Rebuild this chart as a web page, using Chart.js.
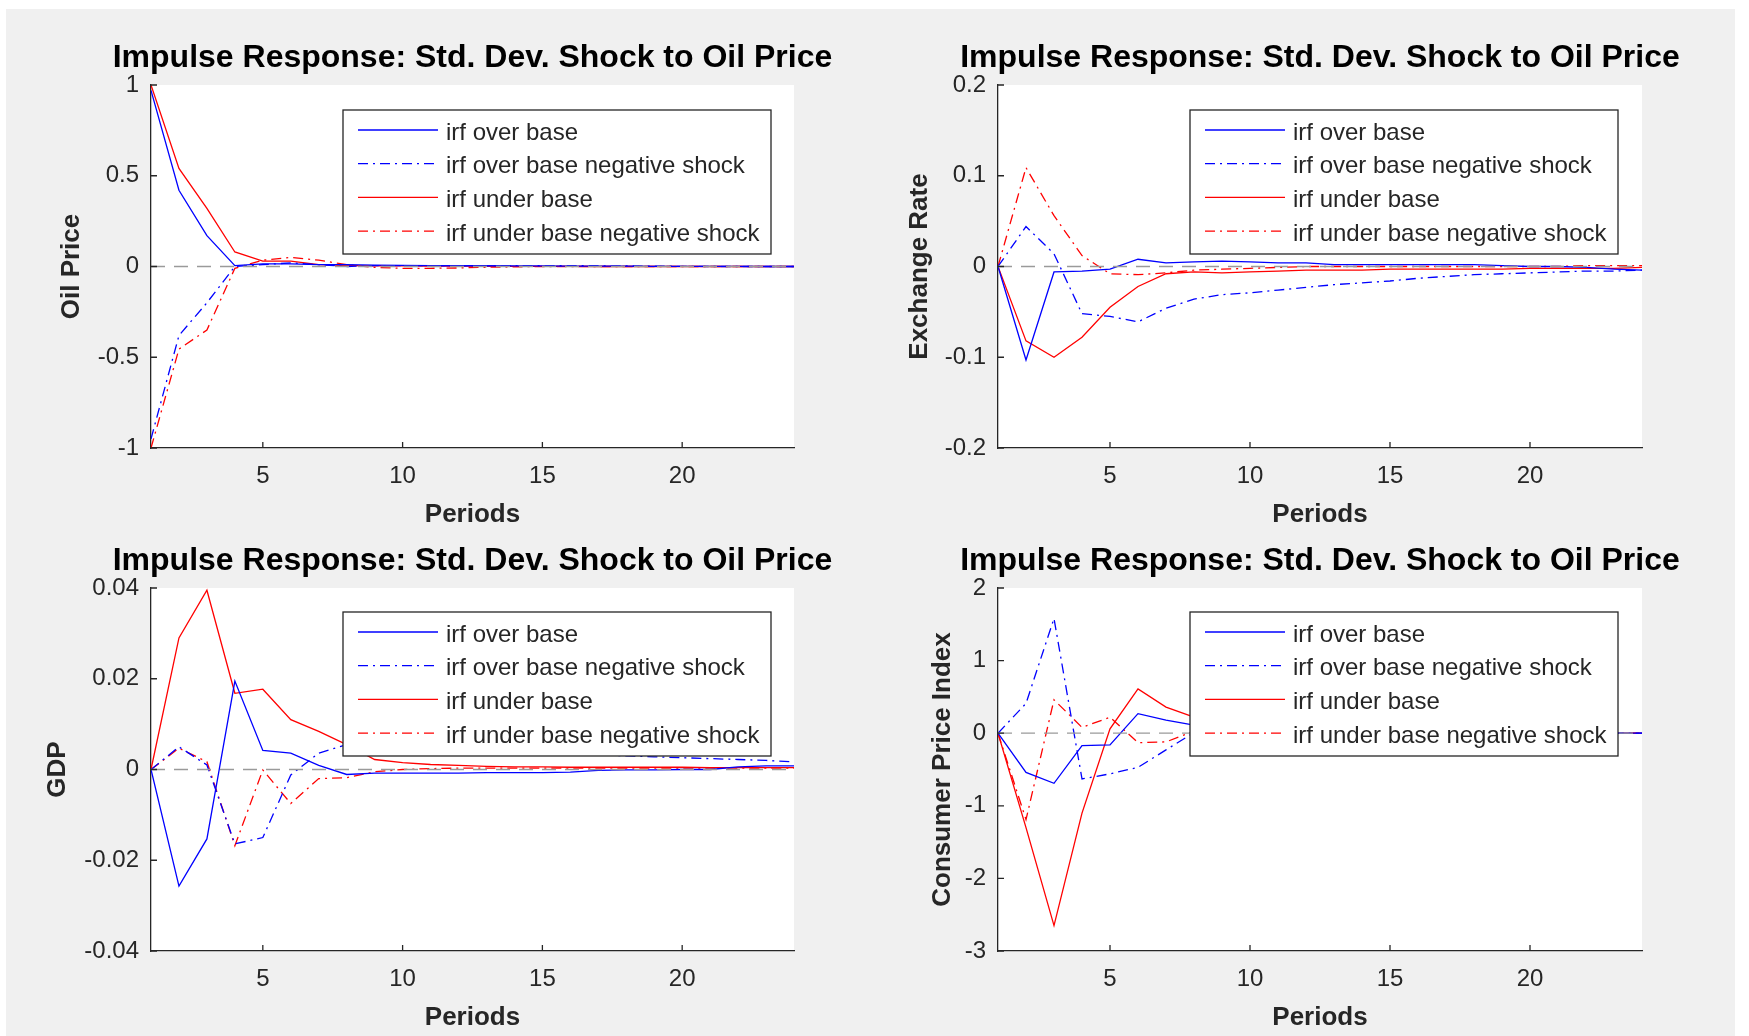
<!DOCTYPE html>
<html>
<head>
<meta charset="utf-8">
<script src="https://cdn.jsdelivr.net/npm/chart.js@4.4.1/dist/chart.umd.min.js"></script>
<style>
  html, body { margin:0; padding:0; background:#fff; width:1749px; height:1036px; overflow:hidden; }
  #bg { position:absolute; left:6px; top:9px; width:1729px; height:1027px; background:#f0f0f0; }
  canvas { position:absolute; }
</style>
</head>
<body>
<div id="bg"></div>
<canvas id="c1"></canvas>
<canvas id="c2"></canvas>
<canvas id="c3"></canvas>
<canvas id="c4"></canvas>
<script>
// ---- data ----
var periods = [1,2,3,4,5,6,7,8,9,10,11,12,13,14,15,16,17,18,19,20,21,22,23,24];
var xTicks = [5, 10, 15, 20];
var seriesNames = ['irf over base', 'irf over base negative shock', 'irf under base', 'irf under base negative shock'];
var chartTitle = 'Impulse Response: Std. Dev. Shock to Oil Price';
var xLabel = 'Periods';

// Oil Price
var oilOver     = [0.97, 0.42, 0.17, 0.005, 0.015, 0.015, 0.01, 0.01, 0.008, 0.006, 0.005, 0.004, 0.004, 0.003, 0.003, 0.002, 0.002, 0.002, 0.001, 0.001, 0.001, 0.001, 0, 0];
var oilOverNeg  = [-0.95, -0.38, -0.2, 0, 0.01, 0.02, 0.01, 0, 0.005, 0.005, 0.005, 0.005, 0.005, 0.005, 0.004, 0.004, 0.004, 0.003, 0.002, 0.001, 0, 0, 0, 0];
var oilUnder    = [1.0, 0.54, 0.32, 0.08, 0.03, 0.03, 0.01, 0.005, 0.004, 0.003, 0.002, 0.002, 0.001, 0.001, 0.001, 0.001, 0, 0, 0, 0, 0, 0, 0, 0];
var oilUnderNeg = [-1.0, -0.455, -0.35, -0.01, 0.035, 0.05, 0.035, 0.01, -0.005, -0.01, -0.01, -0.008, -0.004, -0.002, 0, 0, 0, 0, 0, 0, 0, 0, 0, 0];
var oilTicks = [-1, -0.5, 0, 0.5, 1];

// Exchange Rate
var fxOver     = [0, -0.103, -0.006, -0.005, -0.003, 0.008, 0.004, 0.005, 0.006, 0.005, 0.004, 0.004, 0.002, 0.002, 0.002, 0.002, 0.002, 0.002, 0.001, 0, 0, -0.001, -0.003, -0.004];
var fxOverNeg  = [0, 0.044, 0.014, -0.052, -0.055, -0.061, -0.046, -0.036, -0.031, -0.029, -0.026, -0.023, -0.02, -0.018, -0.016, -0.013, -0.011, -0.009, -0.008, -0.007, -0.006, -0.005, -0.005, -0.004];
var fxUnder    = [0, -0.082, -0.1, -0.078, -0.045, -0.022, -0.008, -0.006, -0.007, -0.006, -0.005, -0.004, -0.004, -0.004, -0.003, -0.003, -0.003, -0.003, -0.003, -0.002, -0.002, -0.002, -0.002, -0.001];
var fxUnderNeg = [0, 0.109, 0.056, 0.012, -0.008, -0.009, -0.007, -0.004, -0.003, -0.002, -0.001, 0, 0, 0, 0, 0, 0, 0, 0, 0, 0, 0.001, 0.001, 0.001];
var fxTicks = [-0.2, -0.1, 0, 0.1, 0.2];

// GDP
var gdpOver     = [0, -0.0257, -0.0153, 0.0195, 0.0042, 0.0036, 0.0009, -0.0011, -0.0008, -0.0008, -0.0008, -0.0008, -0.0007, -0.0007, -0.0007, -0.0006, -0.0002, -0.0001, -0.0001, 0, 0, 0.0006, 0.0008, 0.0008];
var gdpOverNeg  = [0, 0.005, 0.001, -0.0164, -0.015, -0.0012, 0.0036, 0.0055, 0.0055, 0.005, 0.0048, 0.0045, 0.0042, 0.004, 0.0037, 0.0034, 0.0032, 0.003, 0.0028, 0.0026, 0.0024, 0.0022, 0.002, 0.0017];
var gdpUnder    = [0, 0.029, 0.0395, 0.0168, 0.0177, 0.011, 0.0084, 0.0055, 0.0022, 0.0015, 0.0011, 0.0009, 0.0007, 0.0006, 0.0006, 0.0005, 0.0005, 0.0005, 0.0005, 0.0005, 0.0004, 0.0004, 0.0004, 0.0004];
var gdpUnderNeg = [0, 0.0047, 0.0017, -0.0168, -0.0001, -0.0075, -0.002, -0.0018, -0.0005, 0, 0.0002, 0.0003, 0.0003, 0.0003, 0.0003, 0.0003, 0.0003, 0.0003, 0.0003, 0.0003, 0.0003, 0.0003, 0.0003, 0.0003];
var gdpTicks = [-0.04, -0.02, 0, 0.02, 0.04];

// Consumer Price Index
var cpiOver     = [0, -0.54, -0.69, -0.17, -0.16, 0.27, 0.18, 0.11, 0.06, 0.03, 0.02, 0.01, 0.01, 0, 0, 0, 0, 0, 0, 0, 0, 0, 0, 0];
var cpiOverNeg  = [0, 0.41, 1.58, -0.63, -0.56, -0.47, -0.23, 0.01, 0.02, 0.01, 0, 0, 0, 0, 0, 0, 0, 0, 0, 0, 0, 0, 0, 0];
var cpiUnder    = [0, -1.3, -2.65, -1.1, 0.06, 0.61, 0.36, 0.22, 0.1, 0.05, 0.02, 0.01, 0, 0, 0, 0, 0, 0, 0, 0, 0, 0, 0, 0];
var cpiUnderNeg = [0, -1.19, 0.46, 0.08, 0.22, -0.13, -0.12, 0.03, 0.02, 0.01, 0, 0, 0, 0, 0, 0, 0, 0, 0, 0, 0, 0, 0, 0];
var cpiTicks = [-3, -2, -1, 0, 1, 2];

// ---- styling ----
var FONT = '"Liberation Sans", Arial, Helvetica, sans-serif';
var AXIS = '#262626';
var lineStyles = [
  { color: '#0000ff', dash: [] },
  { color: '#0000ff', dash: [10, 5, 2, 5] },
  { color: '#ff0000', dash: [] },
  { color: '#ff0000', dash: [10, 5, 2, 5] }
];

// white plot area
var plotBg = {
  id: 'plotBg',
  beforeDraw: function(chart) {
    var a = chart.chartArea, ctx = chart.ctx;
    ctx.save();
    ctx.fillStyle = '#ffffff';
    ctx.fillRect(a.left, a.top, a.right - a.left, a.bottom - a.top);
    ctx.restore();
  }
};

// title centred over the plot, not squeezed to its width
var panelTitle = {
  id: 'panelTitle',
  afterDraw: function(chart, args, opts) {
    var ctx = chart.ctx, a = chart.chartArea;
    ctx.save();
    ctx.font = 'bold 32px ' + FONT;
    ctx.fillStyle = '#000';
    ctx.textAlign = 'center';
    ctx.textBaseline = 'middle';
    ctx.fillText(opts.text, (a.left + a.right) / 2, a.top - opts.gap);
    ctx.restore();
  }
};

// MATLAB style inward tick marks
var inwardTicks = {
  id: 'inwardTicks',
  afterDraw: function(chart) {
    var ctx = chart.ctx, a = chart.chartArea, xs = chart.scales.x, ys = chart.scales.y;
    ctx.save();
    ctx.strokeStyle = AXIS;
    ctx.lineWidth = 1.3;
    ctx.beginPath();
    xs.ticks.forEach(function(t) {
      var px = xs.getPixelForValue(t.value);
      ctx.moveTo(px, a.bottom); ctx.lineTo(px, a.bottom - 6);
    });
    ys.ticks.forEach(function(t) {
      var py = ys.getPixelForValue(t.value);
      ctx.moveTo(a.left, py); ctx.lineTo(a.left + 6, py);
    });
    ctx.stroke();
    ctx.restore();
  }
};

// boxed legend inside the plot
var boxLegend = {
  id: 'boxLegend',
  afterDatasetsDraw: function(chart, args, opts) {
    var ctx = chart.ctx, a = chart.chartArea;
    var x0 = a.left + opts.dx, y0 = a.top + opts.dy;
    ctx.save();
    ctx.fillStyle = '#ffffff';
    ctx.fillRect(x0, y0, opts.w, opts.h);
    ctx.strokeStyle = AXIS;
    ctx.lineWidth = 1.3;
    ctx.strokeRect(x0, y0, opts.w, opts.h);
    ctx.font = '24px ' + FONT;
    ctx.textBaseline = 'middle';
    var items = chart.data.datasets.filter(function(d) { return !d.noLegend; });
    items.forEach(function(d, i) {
      var y = y0 + 20 + i * 33.7;
      ctx.strokeStyle = d.borderColor;
      ctx.lineWidth = d.borderWidth;
      ctx.setLineDash(d.borderDash || []);
      ctx.beginPath(); ctx.moveTo(x0 + 15, y); ctx.lineTo(x0 + 95, y); ctx.stroke();
      ctx.setLineDash([]);
      ctx.fillStyle = AXIS;
      ctx.fillText(d.label, x0 + 103, y + 3);
    });
    ctx.restore();
  }
};

function panel(id, box, yLabel, yTicks, series, pads) {
  var yw = 140, th = 70, xh = 90, rp = 60;
  var w = yw + (box.r - box.l) + rp;
  var h = th + (box.b - box.t) + xh;
  var cv = document.getElementById(id);
  cv.width = w; cv.height = h;
  cv.style.left = (box.l - yw) + 'px';
  cv.style.top = (box.t - th) + 'px';
  cv.style.width = w + 'px';
  cv.style.height = h + 'px';

  var datasets = series.map(function(vals, i) {
    return {
      label: seriesNames[i],
      data: vals.map(function(v, k) { return { x: periods[k], y: v }; }),
      borderColor: lineStyles[i].color,
      borderDash: lineStyles[i].dash,
      borderWidth: 1.3,
      pointRadius: 0,
      tension: 0,
      fill: false,
      order: 1
    };
  });
  datasets.push({
    label: 'zero',
    noLegend: true,
    data: [{ x: periods[0], y: 0 }, { x: periods[periods.length - 1], y: 0 }],
    borderColor: '#9a9a9a',
    borderDash: [14, 9],
    borderWidth: 1.3,
    pointRadius: 0,
    order: 0
  });

  new Chart(cv, {
    type: 'line',
    data: { datasets: datasets },
    plugins: [plotBg, inwardTicks, boxLegend, panelTitle],
    options: {
      responsive: false,
      animation: false,
      devicePixelRatio: 1,
      layout: { padding: { left: 0, right: rp, top: th, bottom: 0 } },
      plugins: {
        legend: { display: false },
        tooltip: { enabled: false },
        title: { display: false },
        panelTitle: { text: chartTitle, gap: 27 },
        boxLegend: { dx: 192, dy: pads.ly, w: 428, h: 144 }
      },
      scales: {
        x: {
          type: 'linear', min: periods[0], max: periods[periods.length - 1],
          afterBuildTicks: function(s) { s.ticks = xTicks.map(function(v) { return { value: v }; }); },
          afterFit: function(s) { s.height = xh; },
          grid: { display: false, drawTicks: false },
          border: { display: true, color: AXIS, width: 1.3 },
          ticks: { padding: 14.2, color: AXIS, maxRotation: 0, autoSkip: false,
                   font: { family: FONT, size: 24, lineHeight: 1.2 } },
          title: { display: true, text: xLabel, color: AXIS,
                   font: { family: FONT, size: 26, weight: 'bold', lineHeight: 1.2 },
                   padding: { top: 0, bottom: 7.2 } }
        },
        y: {
          type: 'linear', min: yTicks[0], max: yTicks[yTicks.length - 1],
          afterBuildTicks: function(s) { s.ticks = yTicks.map(function(v) { return { value: v }; }); },
          afterFit: function(s) { s.width = yw; },
          grid: { display: false, drawTicks: false },
          border: { display: true, color: AXIS, width: 1.3 },
          ticks: { padding: 12, color: AXIS, callback: function(v) { return String(v); },
                   font: { family: FONT, size: 24, lineHeight: 1.2 } },
          title: { display: true, text: yLabel, color: AXIS,
                   font: { family: FONT, size: 26, weight: 'bold', lineHeight: 1.2 },
                   padding: { top: pads.yt, bottom: 0 } }
        }
      }
    }
  });
}

panel('c1', { l: 151, r: 794, t: 85, b: 448 }, 'Oil Price', oilTicks,
      [oilOver, oilOverNeg, oilUnder, oilUnderNeg], { yt: 45.4, ly: 25 });
panel('c2', { l: 998, r: 1642, t: 85, b: 448 }, 'Exchange Rate', fxTicks,
      [fxOver, fxOverNeg, fxUnder, fxUnderNeg], { yt: 46.4, ly: 25 });
panel('c3', { l: 151, r: 794, t: 588, b: 951 }, 'GDP', gdpTicks,
      [gdpOver, gdpOverNeg, gdpUnder, gdpUnderNeg], { yt: 31.4, ly: 24 });
panel('c4', { l: 998, r: 1642, t: 588, b: 951 }, 'Consumer Price Index', cpiTicks,
      [cpiOver, cpiOverNeg, cpiUnder, cpiUnderNeg], { yt: 69.4, ly: 24 });
</script>
</body>
</html>
